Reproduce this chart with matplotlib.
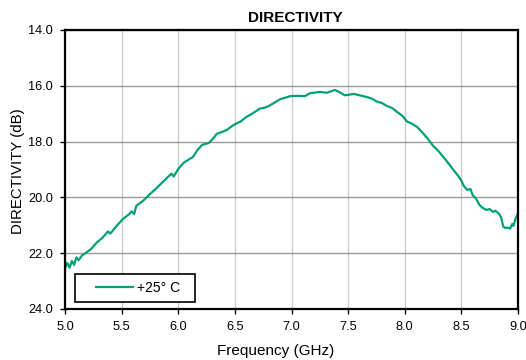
import matplotlib
matplotlib.use("Agg")
import matplotlib.pyplot as plt
from matplotlib.legend_handler import HandlerLine2D

plt.rcParams['font.family'] = ['Liberation Sans', 'DejaVu Sans']

# frequency (GHz) and directivity (dB)
freq = [5.00, 5.02, 5.04, 5.06, 5.08, 5.10, 5.12, 5.15, 5.18, 5.23, 5.28, 5.33,
        5.38, 5.40, 5.45, 5.51, 5.56, 5.59, 5.61, 5.63, 5.69, 5.75, 5.80, 5.85,
        5.90, 5.94, 5.96, 6.00, 6.05, 6.09, 6.13, 6.17, 6.21, 6.27, 6.31, 6.34,
        6.39, 6.43, 6.49, 6.55, 6.60, 6.66, 6.72, 6.77, 6.81, 6.86, 6.90, 6.95,
        6.99, 7.05, 7.12, 7.16, 7.21, 7.25, 7.31, 7.35, 7.38, 7.42, 7.47, 7.51,
        7.55, 7.62, 7.68, 7.72, 7.75, 7.80, 7.84, 7.89, 7.93, 7.98, 8.02, 8.06,
        8.11, 8.15, 8.20, 8.25, 8.30, 8.34, 8.39, 8.43, 8.47, 8.50, 8.52, 8.55,
        8.58, 8.60, 8.63, 8.66, 8.69, 8.72, 8.75, 8.78, 8.80, 8.83, 8.85, 8.87,
        8.89, 8.91, 8.93, 8.95, 8.96, 8.98, 9.00]
directivity = [22.55, 22.35, 22.52, 22.28, 22.42, 22.15, 22.25, 22.08, 22.00, 21.85, 21.62, 21.45,
               21.22, 21.30, 21.05, 20.78, 20.62, 20.50, 20.60, 20.30, 20.12, 19.88, 19.70, 19.50,
               19.30, 19.15, 19.25, 18.98, 18.75, 18.65, 18.55, 18.30, 18.12, 18.05, 17.88, 17.72,
               17.65, 17.58, 17.40, 17.28, 17.12, 16.98, 16.82, 16.78, 16.70, 16.58, 16.48, 16.42,
               16.37, 16.36, 16.37, 16.27, 16.24, 16.22, 16.25, 16.20, 16.15, 16.22, 16.34, 16.32,
               16.29, 16.36, 16.42, 16.48, 16.56, 16.62, 16.72, 16.80, 16.93, 17.08, 17.28, 17.35,
               17.48, 17.65, 17.88, 18.15, 18.35, 18.55, 18.80, 19.02, 19.22, 19.40, 19.58, 19.73,
               19.70, 19.92, 20.05, 20.27, 20.38, 20.45, 20.42, 20.52, 20.48, 20.58, 20.70, 21.05,
               21.10, 21.08, 21.12, 20.95, 21.02, 20.75, 20.57]

x_ticks = [5.0, 5.5, 6.0, 6.5, 7.0, 7.5, 8.0, 8.5, 9.0]
y_ticks = [14.0, 16.0, 18.0, 20.0, 22.0, 24.0]

fig = plt.figure(figsize=(5.26, 3.6), dpi=100)
ax = fig.add_axes([0.1236, 0.1417, 0.8612, 0.775])

ax.plot(freq, directivity, color='#00a07a', lw=1.6, label='+25° C  ')

ax.set_xlim(5.0, 9.0)
ax.set_ylim(24.0, 14.0)
ax.set_xticks(x_ticks)
ax.set_xticklabels(['%.1f' % v for v in x_ticks])
ax.set_yticks(y_ticks)
ax.set_yticklabels(['%.1f' % v for v in y_ticks])
ax.tick_params(labelsize=9.2, length=3.5, width=1, color='black', pad=5)

# vertical grid lighter than horizontal
ax.xaxis.grid(True, color='#cccccc', lw=1)
ax.yaxis.grid(True, color='#999999', lw=1)
ax.set_axisbelow(True)
for s in ax.spines.values():
    s.set_linewidth(1.6)
    s.set_color('black')

ax.set_title('DIRECTIVITY', fontsize=11, fontweight='bold', pad=6, x=0.509)
ax.set_xlabel('Frequency (GHz)', fontsize=11)
ax.set_ylabel('DIRECTIVITY (dB)', fontsize=10.8)
ax.xaxis.set_label_coords(0.466, -0.125)
ax.yaxis.set_label_coords(-0.088, 0.495)

leg = ax.legend(loc='lower left', bbox_to_anchor=(0.022, 0.025), fontsize=10,
                fancybox=False, framealpha=1, edgecolor='black',
                handlelength=3.67, borderpad=0.5, handletextpad=0.3,
                borderaxespad=0,
                handler_map={plt.Line2D: HandlerLine2D(xpad=1.0)})
leg.get_frame().set_linewidth(1.2)

fig.savefig('out.png', dpi=100)
